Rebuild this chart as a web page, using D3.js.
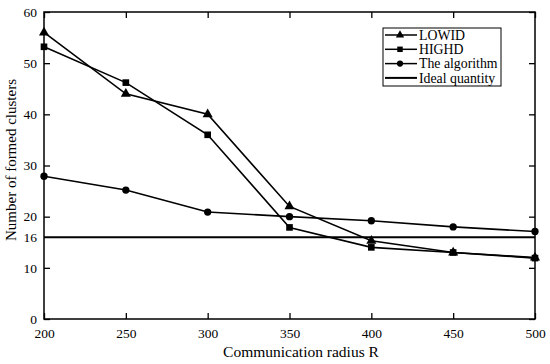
<!DOCTYPE html>
<html><head><meta charset="utf-8">
<script src="https://cdn.jsdelivr.net/npm/d3@7"></script>
<style>body{margin:0;background:#fff}svg{display:block}text{font-family:"Liberation Serif","Times New Roman",serif;fill:#000}</style>
</head><body><svg id="c" width="550" height="364"></svg>
<script>
const radii = [200, 250, 300, 350, 400, 450, 500];
const lowid = [56, 44, 40, 22, 15.3, 13, 12];
const highd = [53.2, 46.2, 36, 17.9, 14, 13, 11.9];
const algorithm = [27.9, 25.2, 20.9, 20, 19.2, 18, 17.1];
const ideal = 16;
const yTicks = [0, 10, 16, 20, 30, 40, 50, 60];
const xTicks = [200, 250, 300, 350, 400, 450, 500];
const seriesNames = ["LOWID", "HIGHD", "The algorithm", "Ideal quantity"];

const svg = d3.select("#c");
const L = 44, R = 535, T = 12, B = 319;
const x = d3.scaleLinear().domain([200, 500]).range([L, R]);
const y = d3.scaleLinear().domain([0, 60]).range([B, T]);

const g = svg.append("g");
g.append("rect").attr("x", L).attr("y", T).attr("width", R - L).attr("height", B - T)
  .attr("fill", "none").attr("stroke", "#000").attr("stroke-width", 1.5);

const fs = "13.5px";
const bx = g.append("g").attr("transform", `translate(0,${B})`)
  .call(d3.axisBottom(x).tickValues(xTicks).tickSize(-6).tickPadding(9).tickFormat(d3.format("d")));
const tx = g.append("g").attr("transform", `translate(0,${T})`)
  .call(d3.axisTop(x).tickValues(xTicks).tickSize(-6).tickFormat(""));
const ly = g.append("g").attr("transform", `translate(${L},0)`)
  .call(d3.axisLeft(y).tickValues(yTicks).tickSize(-6).tickPadding(7).tickFormat(d3.format("d")));
const ry = g.append("g").attr("transform", `translate(${R},0)`)
  .call(d3.axisRight(y).tickValues(yTicks.filter(v => v !== 16)).tickSize(-6).tickFormat(""));
[bx, tx, ly, ry].forEach(a => {
  a.select(".domain").remove();
  a.selectAll("line").attr("stroke", "#000").attr("stroke-width", 1.3);
  a.selectAll("text").style("font-family", '"Liberation Serif",serif').style("font-size", fs).attr("fill", "#000");
});
ly.selectAll(".tick").filter(d => d === 16).select("line").remove();

g.append("line").attr("x1", L).attr("x2", R).attr("y1", y(ideal)).attr("y2", y(ideal))
  .attr("stroke", "#000").attr("stroke-width", 2);

const line = d3.line().x((d, i) => x(radii[i])).y(d => y(d));
const sets = [
  {vals: lowid, sym: d3.symbolTriangle, size: 44},
  {vals: highd, sym: d3.symbolSquare, size: 44},
  {vals: algorithm, sym: d3.symbolCircle, size: 42}
];
sets.forEach(s => {
  g.append("path").attr("d", line(s.vals)).attr("fill", "none").attr("stroke", "#000").attr("stroke-width", 1.6);
  g.selectAll(null).data(s.vals).enter().append("path")
    .attr("d", d3.symbol().type(s.sym).size(s.size))
    .attr("transform", (d, i) => `translate(${x(radii[i])},${y(d)})`)
    .attr("fill", "#000");
});

const lg = g.append("g");
lg.append("rect").attr("x", 383).attr("y", 28).attr("width", 118).attr("height", 58)
  .attr("fill", "#fff").attr("stroke", "#000").attr("stroke-width", 1);
const syms = [d3.symbolTriangle, d3.symbolSquare, d3.symbolCircle, null];
seriesNames.forEach((n, i) => {
  const yy = 35 + i * 14.3;
  lg.append("line").attr("x1", 385).attr("x2", 417).attr("y1", yy).attr("y2", yy)
    .attr("stroke", "#000").attr("stroke-width", i === 3 ? 2 : 1.5);
  if (syms[i]) lg.append("path").attr("d", d3.symbol().type(syms[i]).size(30))
    .attr("transform", `translate(400,${yy})`).attr("fill", "#000");
  lg.append("text").attr("x", 419).attr("y", yy).attr("dy", "0.35em")
    .style("font-size", "13.8px").text(n);
});

g.append("text").attr("x", 301).attr("y", 357).attr("text-anchor", "middle")
  .style("font-size", "15.5px").text("Communication radius R");
g.append("text").attr("transform", "translate(16,160) rotate(-90)").attr("text-anchor", "middle")
  .style("font-size", "15px").text("Number of formed clusters");
</script></body></html>
